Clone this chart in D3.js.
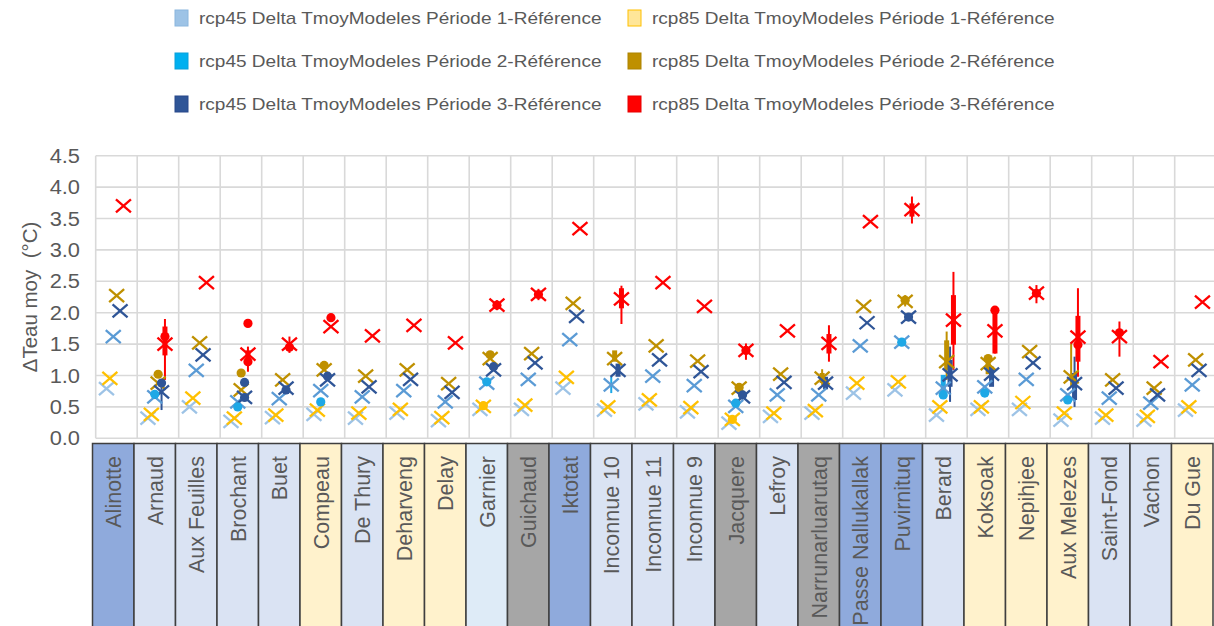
<!DOCTYPE html>
<html><head><meta charset="utf-8">
<script src="https://cdn.jsdelivr.net/npm/d3@7"></script>
<style>
html,body{margin:0;padding:0;background:#fff;overflow:hidden}
text{font-family:"Liberation Sans",Arial,sans-serif;fill:#595959}
</style></head><body>
<svg id="c" width="1214" height="626"></svg>
<script>
// ---------------- data ----------------
const categories = ["Alinotte","Arnaud","Aux Feuilles","Brochant","Buet","Compeau","De Thury","Deharveng","Delay","Garnier","Guichaud","Iktotat","Inconnue 10","Inconnue 11","Inconnue 9","Jacquere","Lefroy","Narrunarluarutaq","Passe Nallukallak","Puvirnituq","Berard","Koksoak","Nepihjee","Aux Melezes","Saint-Fond","Vachon","Du Gue"];
const categoryGroups = ["dark","light","light","light","light","yellow","light","yellow","yellow","pale","gray","dark","light","light","light","gray","light","gray","dark","dark","light","yellow","yellow","yellow","light","light","yellow"];
const seriesNames = ["rcp45 Delta TmoyModeles Période 1-Référence","rcp85 Delta TmoyModeles Période 1-Référence","rcp45 Delta TmoyModeles Période 2-Référence","rcp85 Delta TmoyModeles Période 2-Référence","rcp45 Delta TmoyModeles Période 3-Référence","rcp85 Delta TmoyModeles Période 3-Référence"];
const rcp45P1 = [0.79,0.32,0.50,0.27,0.33,0.38,0.32,0.40,0.28,0.46,0.46,0.80,0.45,0.55,0.42,0.24,0.35,0.40,0.72,0.77,0.37,0.46,0.46,0.29,0.32,0.29,0.45];
const rcp85P1 = [0.955,0.38,0.64,0.32,0.37,0.45,0.40,0.46,0.33,0.51,0.53,0.97,0.50,0.61,0.49,0.30,0.40,0.44,0.88,0.90,0.50,0.50,0.57,0.40,0.37,0.35,0.50];
const rcp45P2 = [1.62,0.66,1.08,0.58,0.63,0.76,0.66,0.76,0.58,0.88,0.94,1.57,0.85,0.99,0.84,0.51,0.69,0.69,1.47,1.53,0.80,0.82,0.94,0.69,0.64,0.56,0.85];
const rcp85P2 = [2.27,0.88,1.52,0.77,0.93,1.09,0.99,1.09,0.87,1.27,1.35,2.15,1.27,1.47,1.23,0.80,1.02,0.96,2.10,2.18,1.22,1.19,1.38,0.98,0.93,0.80,1.25];
const rcp45P3 = [2.03,0.74,1.33,0.65,0.80,0.93,0.82,0.94,0.73,1.09,1.20,1.94,1.08,1.25,1.06,0.66,0.89,0.88,1.84,1.93,1.01,1.02,1.20,0.87,0.80,0.69,1.08];
const rcp85P3 = [3.70,1.50,2.48,1.34,1.50,1.78,1.63,1.80,1.52,2.12,2.29,3.34,2.22,2.48,2.10,1.40,1.71,1.51,3.45,3.64,1.88,1.71,2.31,1.61,1.62,1.22,2.17];
// additional circle markers: [category, series index, value]
const dotPoints = [
  ["Arnaud",5,1.62],["Arnaud",3,1.02],["Arnaud",4,0.88],["Arnaud",2,0.70],
  ["Brochant",5,1.83],["Brochant",5,1.22],["Brochant",3,1.04],["Brochant",4,0.89],["Brochant",4,0.65],["Brochant",2,0.50],
  ["Buet",5,1.45],["Buet",4,0.77],
  ["Compeau",5,1.92],["Compeau",3,1.16],["Compeau",4,0.99],["Compeau",2,0.58],
  ["Garnier",5,2.12],["Garnier",3,1.33],["Garnier",4,1.14],["Garnier",2,0.90],["Garnier",1,0.52],
  ["Guichaud",5,2.29],
  ["Jacquere",5,1.40],["Jacquere",3,0.81],["Jacquere",4,0.69],["Jacquere",2,0.56],["Jacquere",1,0.30],
  ["Puvirnituq",3,2.20],["Puvirnituq",4,1.93],["Puvirnituq",2,1.53],
  ["Berard",2,0.69],
  ["Koksoak",5,2.04],["Koksoak",3,1.27],["Koksoak",2,0.72],
  ["Nepihjee",5,2.31],
  ["Aux Melezes",5,1.49],["Aux Melezes",2,0.61],
  ["Saint-Fond",5,1.68]
];
// inter-quartile style thick ranges: [category, series index, low, high]
const boxRanges = [
  ["Arnaud",5,1.32,1.78],
  ["Brochant",5,1.24,1.40],
  ["Inconnue 10",5,2.07,2.39],["Inconnue 10",3,1.22,1.40],["Inconnue 10",4,0.98,1.19],
  ["Narrunarluarutaq",5,1.35,1.66],["Narrunarluarutaq",4,0.78,0.98],["Narrunarluarutaq",3,0.88,1.04],
  ["Puvirnituq",5,3.53,3.74],
  ["Berard",5,1.49,2.28],["Berard",3,1.09,1.56],["Berard",4,0.82,1.25],["Berard",2,0.64,1.01],
  ["Koksoak",5,1.35,2.04],["Koksoak",3,1.02,1.30],["Koksoak",4,0.82,1.14],
  ["Aux Melezes",5,1.22,1.95],["Aux Melezes",4,0.61,1.04]
];
// min-max thin ranges: [category, series index, low, high]
const whiskerRanges = [
  ["Arnaud",5,0.93,1.90],["Arnaud",4,0.45,0.88],
  ["Brochant",5,1.06,1.46],
  ["Buet",5,1.36,1.62],
  ["Garnier",5,2.04,2.20],["Guichaud",5,2.20,2.38],
  ["Inconnue 10",5,1.82,2.43],["Inconnue 10",2,0.72,0.98],
  ["Jacquere",5,1.25,1.51],
  ["Narrunarluarutaq",5,1.22,1.80],["Narrunarluarutaq",3,0.85,1.10],
  ["Puvirnituq",5,3.42,3.85],["Puvirnituq",3,2.10,2.28],
  ["Berard",5,1.09,2.65],["Berard",3,0.93,1.70],["Berard",4,0.58,1.46],
  ["Koksoak",5,1.35,2.06],
  ["Nepihjee",5,2.15,2.44],
  ["Aux Melezes",5,0.98,2.39],["Aux Melezes",3,0.82,1.51],["Aux Melezes",4,0.50,1.30],
  ["Saint-Fond",5,1.30,1.86]
];
const yTicks = [0,0.5,1.0,1.5,2.0,2.5,3.0,3.5,4.0,4.5];
const yTitle = "ΔTeau moy\u00A0 (°C)";

// ---------------- style ----------------
const markerColors = ["#9DC3E6","#FFC000","#5B9BD5","#BF9000","#2F5597","#FF0000"];
const dotColors = ["#9DC3E6","#FFC000","#1EA8E6","#BF9000","#2F5597","#FF0000"];
const swatchFill = ["#9DC3E6","#FFE699","#00B0F0","#BF9000","#2F5597","#FF0000"];
const swatchStroke = ["#8AB6DE","#FFC000","#0AA0DA","#AD8300","#28498A","#E60000"];
const groupFill = {dark:"#8FAADC",light:"#DAE3F3",pale:"#DEEBF7",yellow:"#FFF2CC",gray:"#A6A6A6"};

const svg = d3.select("#c");
const series = [rcp45P1,rcp85P1,rcp45P2,rcp85P2,rcp45P3,rcp85P3];

const x = d3.scaleBand().domain(categories).range([95.7, 95.7+27*41.5]).paddingInner(0).paddingOuter(0);
const y = d3.scaleLinear().domain([0,4.5]).range([438.3,155.7]);
const off = d3.scalePoint().domain(d3.range(6)).range([-10,7]);
const cx = (c,s) => x(c) + x.bandwidth()/2 + off(s);

// gridlines
const grid = svg.append("g");
grid.selectAll("line.h").data(yTicks).join("line")
  .attr("x1",x.range()[0]).attr("x2",1214)
  .attr("y1",d=>y(d)).attr("y2",d=>y(d))
  .attr("stroke","#D9D9D9").attr("stroke-width",1.6);
grid.selectAll("line.v").data(categories.concat(["__end"])).join("line")
  .attr("x1",(d,i)=>x.range()[0]+i*x.bandwidth()).attr("x2",(d,i)=>x.range()[0]+i*x.bandwidth())
  .attr("y1",y(4.5)).attr("y2",y(0))
  .attr("stroke","#D9D9D9").attr("stroke-width",1.6);

// y tick labels
svg.append("g").selectAll("text").data(yTicks).join("text")
  .attr("transform",d=>`translate(80,${y(d)}) scale(1.12,1)`)
  .attr("text-anchor","end").attr("dy","0.36em")
  .style("font-size","19.5px")
  .text(d=>d3.format(".1f")(d));

// y title
svg.append("text")
  .attr("transform",`translate(30,${(y(0)+y(4.5))/2}) rotate(-90)`)
  .attr("text-anchor","middle").attr("dy","0.35em")
  .style("font-size","20.5px")
  .text(yTitle);

// category boxes
const cat = svg.append("g");
cat.selectAll("rect").data(categories).join("rect")
  .attr("x",d=>x(d)-3.2).attr("y",443.5)
  .attr("width",x.bandwidth()).attr("height",200)
  .attr("fill",(d,i)=>groupFill[categoryGroups[i]])
  .attr("stroke","#3F3F3F").attr("stroke-width",1.5);
cat.selectAll("text").data(categories).join("text")
  .attr("transform",d=>`translate(${x(d)-3.2+x.bandwidth()/2},456) rotate(-90)`)
  .attr("text-anchor","end").attr("dy","0.36em")
  .style("font-size","21.5px")
  .text(d=>d);

// whiskers
const marks = svg.append("g");
marks.selectAll("line.w").data(whiskerRanges).join("line")
  .attr("x1",d=>cx(d[0],d[1])).attr("x2",d=>cx(d[0],d[1]))
  .attr("y1",d=>y(d[2])).attr("y2",d=>y(d[3]))
  .attr("stroke",d=>dotColors[d[1]]).attr("stroke-width",2);
marks.selectAll("rect.b").data(boxRanges).join("rect")
  .attr("x",d=>cx(d[0],d[1])-2.5).attr("width",5)
  .attr("y",d=>y(d[3])).attr("height",d=>y(d[2])-y(d[3]))
  .attr("fill",d=>dotColors[d[1]]);

// X markers
const pts = [];
series.forEach((arr,s)=>arr.forEach((v,i)=>pts.push({c:categories[i],s,v})));
const xs = marks.selectAll("g.x").data(pts).join("g")
  .attr("transform",d=>`translate(${cx(d.c,d.s)},${y(d.v)})`)
  .attr("stroke",d=>markerColors[d.s]).attr("stroke-width",2.3);
xs.append("line").attr("x1",-7.5).attr("y1",-6.5).attr("x2",7.5).attr("y2",6.5);
xs.append("line").attr("x1",-7.5).attr("y1",6.5).attr("x2",7.5).attr("y2",-6.5);

// dots
marks.selectAll("circle").data(dotPoints).join("circle")
  .attr("cx",d=>cx(d[0],d[1])).attr("cy",d=>y(d[2])).attr("r",4.6)
  .attr("fill",d=>dotColors[d[1]]);

// legend
const legendCols = [175,628];
const legendRows = [18,61,104];
const leg = svg.append("g").selectAll("g").data(seriesNames).join("g")
  .attr("transform",(d,i)=>`translate(${legendCols[i%2]},${legendRows[Math.floor(i/2)]})`);
leg.append("rect").attr("x",0).attr("y",-8).attr("width",13).attr("height",16)
  .attr("fill",(d,i)=>swatchFill[i]).attr("stroke",(d,i)=>swatchStroke[i]).attr("stroke-width",1);
leg.append("text").attr("transform","translate(24,0) scale(1.12,1)").attr("dy","0.36em")
  .style("font-size","17px").text(d=>d);
</script>
</body></html>
